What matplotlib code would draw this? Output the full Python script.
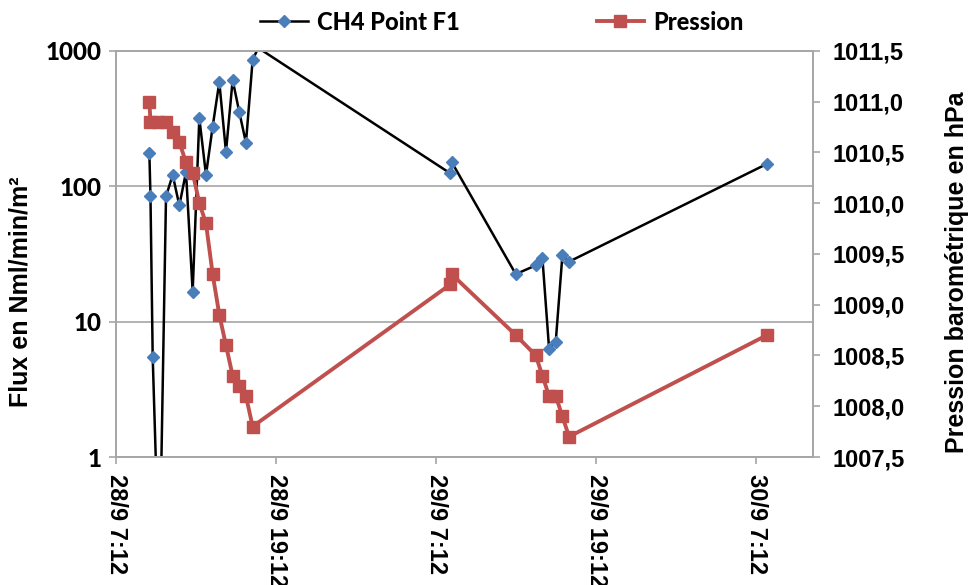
import matplotlib
matplotlib.use("Agg")
import matplotlib.pyplot as plt
import pandas as pd
from matplotlib.ticker import FuncFormatter, NullLocator

# CH4 flux at point F1 (Nml/min/m2)
ch4_times = [
    "28/09 09:40", "28/09 09:45", "28/09 09:55", "28/09 10:25", "28/09 10:55",
    "28/09 11:25", "28/09 11:55", "28/09 12:25", "28/09 12:55", "28/09 13:25",
    "28/09 13:55", "28/09 14:25", "28/09 14:55", "28/09 15:25", "28/09 15:55",
    "28/09 16:25", "28/09 16:55", "28/09 17:25", "28/09 17:50",
    "29/09 08:16", "29/09 08:21", "29/09 13:10", "29/09 14:40", "29/09 15:10",
    "29/09 15:40", "29/09 16:10", "29/09 16:40", "29/09 17:10",
    "30/09 08:01",
]
ch4_flux = [
    175, 84, 5.5, 0.13, 84,
    121, 72, 127, 16.6, 318,
    121, 275, 587, 179, 608,
    352, 209, 853, 1050,
    124, 151, 22.4, 26, 29.4,
    6.3, 7.1, 31, 27.7,
    146,
]

# barometric pressure (hPa)
pression_times = [
    "28/09 09:40", "28/09 09:45", "28/09 10:20", "28/09 10:55", "28/09 11:25",
    "28/09 11:55", "28/09 12:25", "28/09 12:55", "28/09 13:25", "28/09 13:55",
    "28/09 14:25", "28/09 14:55", "28/09 15:25", "28/09 15:55", "28/09 16:25",
    "28/09 16:55", "28/09 17:25",
    "29/09 08:16", "29/09 08:21", "29/09 13:10", "29/09 14:40", "29/09 15:10",
    "29/09 15:40", "29/09 16:10", "29/09 16:40", "29/09 17:10",
    "30/09 08:01",
]
pression_hpa = [
    1011.0, 1010.8, 1010.8, 1010.8, 1010.7,
    1010.6, 1010.4, 1010.3, 1010.0, 1009.8,
    1009.3, 1008.9, 1008.6, 1008.3, 1008.2,
    1008.1, 1007.8,
    1009.2, 1009.3, 1008.7, 1008.5, 1008.3,
    1008.1, 1008.1, 1007.9, 1007.7,
    1008.7,
]

flux_ticks = [1, 10, 100, 1000]
pression_ticks = [1007.5, 1008.0, 1008.5, 1009.0, 1009.5, 1010.0, 1010.5, 1011.0, 1011.5]

YEAR = "2011"


def to_dates(times):
    return pd.to_datetime([f"{t[:5]}/{YEAR} {t[6:]}" for t in times], format="%d/%m/%Y %H:%M")


t_ch4 = to_dates(ch4_times)
t_p = to_dates(pression_times)
x_start = pd.Timestamp(f"{YEAR}-09-28 07:12")
x_end = x_start + pd.Timedelta(hours=52.3)
x_ticks = pd.date_range(x_start, periods=5, freq="12h")

GRID = "#a6a6a6"
BLUE = "#4a7ebb"
RED = "#c0504d"

fig = plt.figure(figsize=(9.7, 5.85), dpi=100)
ax = fig.add_axes([0.1201, 0.2188, 0.7184, 0.6945])
ax2 = ax.twinx()

# markers only for points inside the log range
in_range = [flux_ticks[0] <= v <= flux_ticks[-1] for v in ch4_flux]
ax.plot(t_ch4, ch4_flux, color="black", lw=1.8, marker="D", ms=6.5,
        mfc=BLUE, mec=BLUE, markevery=in_range, label="CH4 Point F1")
ax2.plot(t_p, pression_hpa, color=RED, lw=2.8, marker="s", ms=8,
         mfc=RED, mec=RED, label="Pression")

ax.set_yscale("log")
ax.set_ylim(flux_ticks[0], flux_ticks[-1])
ax.set_yticks(flux_ticks)
ax.yaxis.set_minor_locator(NullLocator())
ax.yaxis.set_major_formatter(FuncFormatter(lambda v, p: f"{v:g}"))
ax.grid(True, axis="y", color=GRID, lw=1.2)
ax.set_axisbelow(True)

ax2.set_ylim(pression_ticks[0], pression_ticks[-1])
ax2.set_yticks(pression_ticks)
ax2.yaxis.set_major_formatter(FuncFormatter(lambda v, p: f"{v:.1f}".replace(".", ",")))

ax.set_xlim(x_start, x_end)
ax.set_xticks(x_ticks)
ax.set_xticklabels([f"{d.day}/{d.month} {d.hour}:{d.minute:02d}" for d in x_ticks],
                   rotation=-90, ha="center", va="top",
                   fontfamily="Liberation Sans", fontweight="bold", fontsize=17)

for a in (ax, ax2):
    for s in a.spines.values():
        s.set_color(GRID)
        s.set_linewidth(1.2)
    a.tick_params(color=GRID, width=1.2, length=5)

ax.tick_params(axis="x", pad=7)
ax.tick_params(axis="y", pad=6)
ax2.tick_params(axis="y", pad=9)
for lbl in ax.get_yticklabels():
    lbl.set_fontfamily("Lato")
    lbl.set_fontweight("black")
    lbl.set_fontsize(17.5)
for lbl in ax2.get_yticklabels():
    lbl.set_fontfamily("Liberation Sans")
    lbl.set_fontweight("bold")
    lbl.set_fontsize(17)

fig.text(21 / 970, 1 - 292 / 585, "Flux en Nml/min/m²", rotation=90,
         ha="center", va="center", fontfamily="Liberation Sans",
         fontweight="bold", fontsize=18)
fig.text(957 / 970, 1 - 272 / 585, "Pression barométrique en hPa", rotation=90,
         ha="center", va="center", fontfamily="Liberation Sans",
         fontweight="bold", fontsize=18)

h1, l1 = ax.get_legend_handles_labels()
h2, l2 = ax2.get_legend_handles_labels()
fig.legend(h1 + h2, l1 + l2, loc="center", bbox_to_anchor=(502 / 970, 1 - 22 / 585),
           ncol=2, frameon=False, numpoints=1, handlelength=2.0, handletextpad=0.4,
           columnspacing=5.8, prop={"family": "Lato", "weight": "black", "size": 17})

fig.savefig("out.png", dpi=100)
